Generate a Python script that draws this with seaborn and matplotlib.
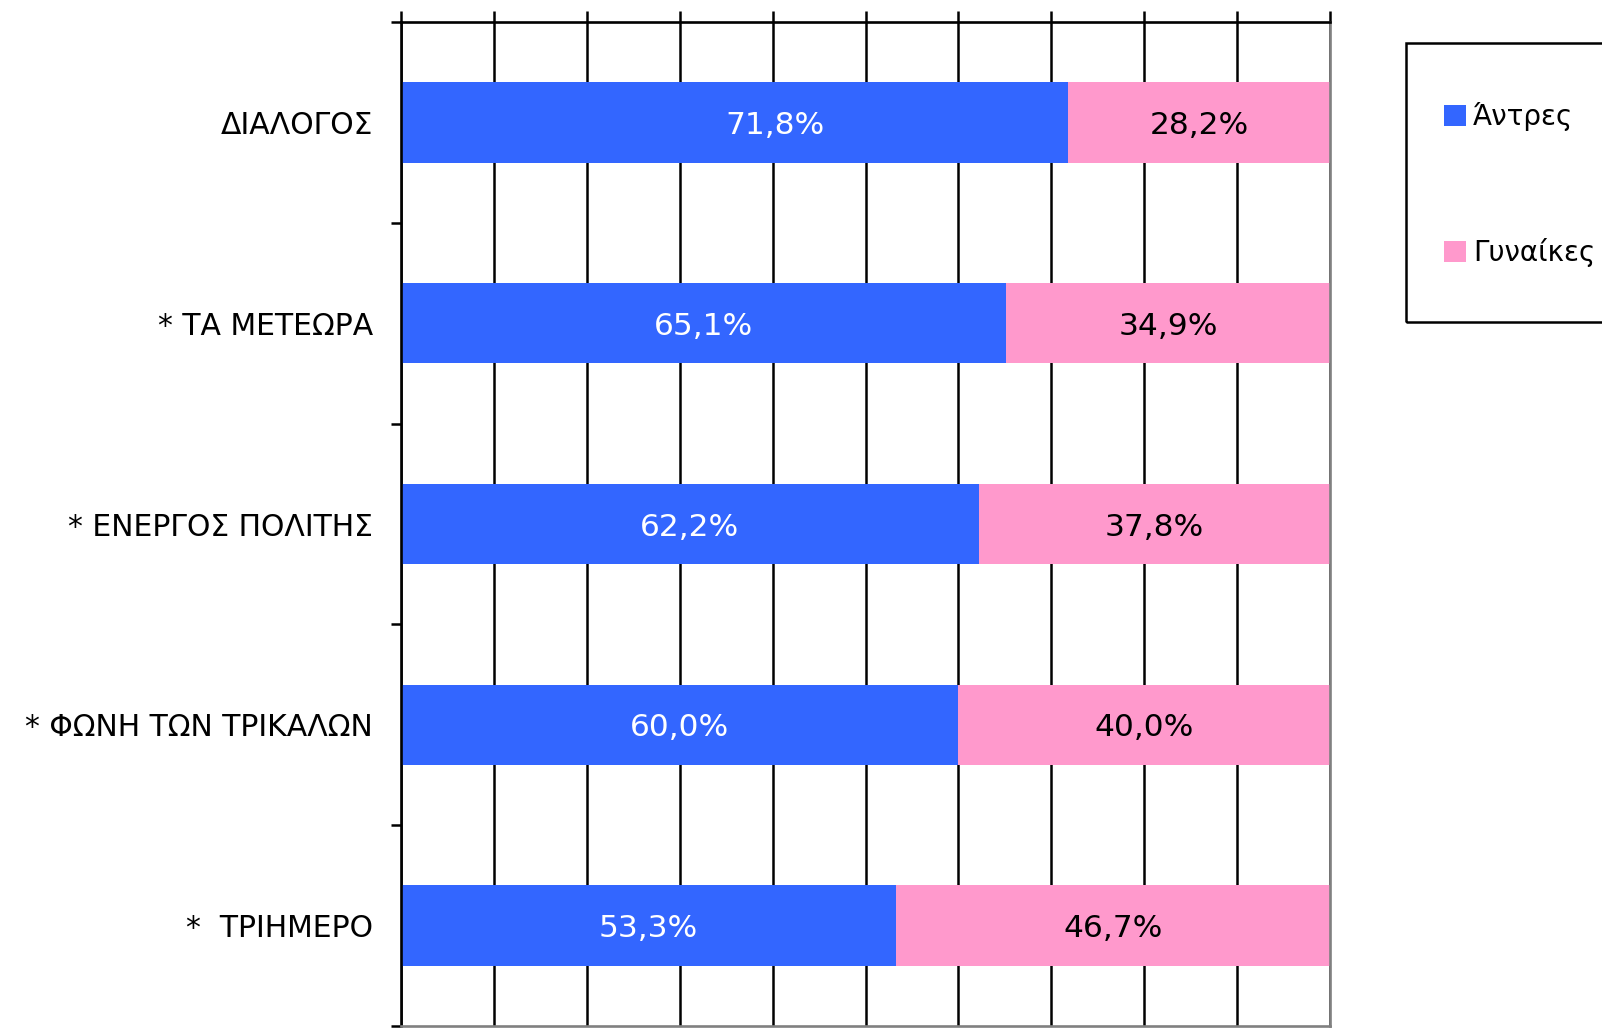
import matplotlib
matplotlib.use("Agg")
import matplotlib.pyplot as plt
import seaborn as sns
import pandas as pd
from matplotlib.patches import Rectangle, Patch

categories = ["ΔΙΑΛΟΓΟΣ", "* ΤΑ ΜΕΤΕΩΡΑ", "* ΕΝΕΡΓΟΣ ΠΟΛΙΤΗΣ",
              "* ΦΩΝΗ ΤΩΝ ΤΡΙΚΑΛΩΝ", "*  ΤΡΙΗΜΕΡΟ"]
men = [71.8, 65.1, 62.2, 60.0, 53.3]
women = [28.2, 34.9, 37.8, 40.0, 46.7]
series_names = ["Άντρες", "Γυναίκες"]
colors = ["#3366FF", "#FF99CC"]

# horizontal nudge of the men's value labels (style only)
men_label_shift = [4.4, 0, 0, 0, 0]

sns.set_style("white")
plt.rcParams["font.family"] = ["DejaVu Sans"]
plt.rcParams["text.color"] = "black"
plt.rcParams["ytick.color"] = "black"
plt.rcParams["xtick.color"] = "black"

df = pd.DataFrame({"cat": categories, "men": men,
                   "total": [m + w for m, w in zip(men, women)]})

fig = plt.figure(figsize=(16.02, 10.28), dpi=100)
ax = fig.add_axes([401 / 1602, 2 / 1028, 929 / 1602, 1004 / 1028])

sns.barplot(data=df, y="cat", x="total", color=colors[1], saturation=1,
            width=0.4, orient="h", ax=ax, linewidth=0)
sns.barplot(data=df, y="cat", x="men", color=colors[0], saturation=1,
            width=0.4, orient="h", ax=ax, linewidth=0)

def fmt(v):
    return f"{v:.1f}%".replace(".", ",")

for i, (m, w) in enumerate(zip(men, women)):
    ax.text(m / 2 + men_label_shift[i], i, fmt(m), ha="center", va="center_baseline",
            color="white", fontsize=22.5)
    ax.text(m + w / 2, i, fmt(w), ha="center", va="center_baseline",
            color="black", fontsize=22.5)

ax.set_xlim(0, 100)
ax.set_ylim(len(categories) - 0.5, -0.5)
ax.set_xlabel("")
ax.set_ylabel("")

ax.set_axisbelow(True)
ax.set_xticks(range(0, 101, 10))
ax.grid(axis="x", color="black", linewidth=1.8)
ax.grid(axis="y", visible=False)
ax.xaxis.tick_top()
ax.tick_params(axis="x", which="major", length=8, width=1.8, color="black",
               labeltop=False, labelbottom=False, direction="out")

ax.set_yticks(range(len(categories)))
ax.set_yticklabels(categories, fontsize=21.5, color="black")
ax.set_yticks([i - 0.5 for i in range(len(categories) + 1)], minor=True)
ax.tick_params(axis="y", which="major", length=0, pad=20)
ax.tick_params(axis="y", which="minor", length=7, width=1.8, color="black", left=True)

for s in ["top", "left"]:
    ax.spines[s].set_color("black")
    ax.spines[s].set_linewidth(1.9)
for s in ["right", "bottom"]:
    ax.spines[s].set_color("#808080")
    ax.spines[s].set_linewidth(1.9)
    ax.spines[s].set_visible(True)
ax.spines["top"].set_visible(True)
ax.spines["left"].set_visible(True)

# legend frame
fig.patches.append(Rectangle((1406 / 1602, 1 - 322 / 1028), 300 / 1602, 279 / 1028,
                             transform=fig.transFigure, fill=False,
                             edgecolor="black", linewidth=1.8))
handles = [Patch(facecolor=c, edgecolor="none") for c in colors]
leg = fig.legend(handles, series_names, loc="upper left",
                 bbox_to_anchor=(1444 / 1602, 1 - 102 / 1028), frameon=False,
                 fontsize=20, handlelength=0.8, handleheight=0.8,
                 handletextpad=0.25, labelspacing=3.85, borderpad=0, borderaxespad=0)
for t in leg.get_texts():
    t.set_color("black")

fig.savefig("out.png", dpi=100)
